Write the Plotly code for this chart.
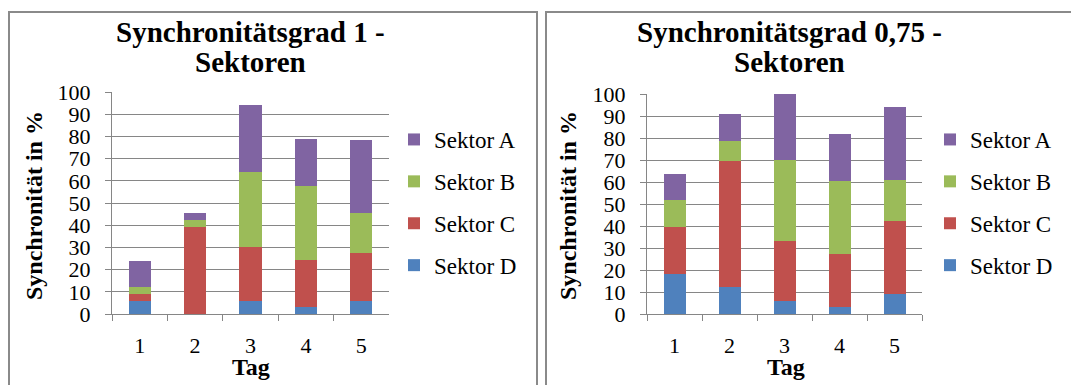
import plotly.graph_objects as go

tage = ["1", "2", "3", "4", "5"]
sektoren = ["Sektor D", "Sektor C", "Sektor B", "Sektor A"]
farben = {"Sektor A": "#8064A2", "Sektor B": "#9BBB59", "Sektor C": "#C0504D", "Sektor D": "#4F81BD"}
rang = {"Sektor A": 1, "Sektor B": 2, "Sektor C": 3, "Sektor D": 4}

# Synchronitätsgrad 1
g1_D = [6, 0, 6, 3, 6]
g1_C = [3, 39.4, 24.4, 21.3, 21.3]
g1_B = [3, 3, 33.5, 33.4, 18.2]
g1_A = [12, 3.2, 30.1, 21, 33.1]

# Synchronitätsgrad 0,75
g2_D = [18.2, 12.1, 6.1, 3, 9.1]
g2_C = [21.2, 57.6, 27.3, 24.2, 33.3]
g2_B = [12.3, 9.1, 36.4, 33.3, 18.3]
g2_A = [11.8, 12.1, 30.3, 21.2, 33.3]

titel1 = ["Synchronitätsgrad 1 -", "Sektoren"]
titel2 = ["Synchronitätsgrad 0,75 -", "Sektoren"]
y_titel = "Synchronität in %"
x_titel = "Tag"

FONT = "Liberation Serif, Times New Roman, serif"
W, H = 1071, 385

fig = go.Figure()

series1 = {"Sektor D": g1_D, "Sektor C": g1_C, "Sektor B": g1_B, "Sektor A": g1_A}
series2 = {"Sektor D": g2_D, "Sektor C": g2_C, "Sektor B": g2_B, "Sektor A": g2_A}

for name in sektoren:
    fig.add_trace(go.Bar(x=tage, y=series1[name], name=name, marker_color=farben[name],
                         marker_line_width=0, xaxis="x", yaxis="y", legend="legend",
                         legendgroup="l1" + name, legendrank=rang[name]))
for name in sektoren:
    fig.add_trace(go.Bar(x=tage, y=series2[name], name=name, marker_color=farben[name],
                         marker_line_width=0, xaxis="x2", yaxis="y2", legend="legend2",
                         legendgroup="l2" + name, legendrank=rang[name]))

def px_x(p):
    return p / W

def px_y(p):
    return 1 - p / H

grid = "#868686"
axis_common = dict(
    showline=True, linecolor=grid, linewidth=1.3, automargin=False,
    ticks="outside", tickcolor=grid, ticklen=6, tickwidth=1.3,
    tickfont=dict(family=FONT, size=22, color="#000"),
)

leg_common = dict(xanchor="left", yanchor="top", traceorder="grouped", tracegroupgap=9,
                  font=dict(family=FONT, size=23, color="#000"), bgcolor="rgba(0,0,0,0)")

fig.update_layout(
    width=W, height=H,
    margin=dict(l=0, r=0, t=0, b=0, pad=0, autoexpand=False),
    paper_bgcolor="white", plot_bgcolor="white",
    barmode="stack", bargap=0.6,
    font=dict(family=FONT, color="#000"),
    xaxis=dict(domain=[px_x(112), px_x(389)], anchor="y", tickson="boundaries",
               ticklabelstandoff=11, showgrid=False, **axis_common),
    yaxis=dict(domain=[px_y(314), px_y(92)], anchor="x", range=[0, 100], dtick=10,
               showgrid=True, gridcolor=grid, gridwidth=1.3, ticklabelstandoff=10,
               **axis_common),
    xaxis2=dict(domain=[px_x(647), px_x(922)], anchor="y2", tickson="boundaries",
                ticklabelstandoff=11, showgrid=False, **axis_common),
    yaxis2=dict(domain=[px_y(314), px_y(94)], anchor="x2", range=[0, 100], dtick=10,
                showgrid=True, gridcolor=grid, gridwidth=1.3, ticklabelstandoff=10,
                **axis_common),
    legend=dict(x=px_x(394), y=px_y(118), **leg_common),
    legend2=dict(x=px_x(930), y=px_y(118), **leg_common),
)

shapes = [
    dict(type="rect", xref="paper", yref="paper", x0=px_x(9), x1=px_x(537),
         y0=px_y(400), y1=px_y(12), line=dict(color="#8a8a8a", width=2)),
    dict(type="rect", xref="paper", yref="paper", x0=px_x(546), x1=px_x(1090),
         y0=px_y(400), y1=px_y(12), line=dict(color="#8a8a8a", width=2)),
]
fig.update_layout(shapes=shapes)

ann = []
for cx, lines in [(250, titel1), (789, titel2)]:
    for i, t in enumerate(lines):
        ann.append(dict(text="<b>" + t + "</b>", x=px_x(cx), y=px_y(32 + 30 * i),
                        xref="paper", yref="paper", showarrow=False,
                        font=dict(family=FONT, size=29, color="#000"),
                        xanchor="center", yanchor="middle"))
for cx in [34, 568]:
    ann.append(dict(text="<b>" + y_titel + "</b>", x=px_x(cx), y=px_y(206),
                    xref="paper", yref="paper", showarrow=False, textangle=-90,
                    font=dict(family=FONT, size=24, color="#000"),
                    xanchor="center", yanchor="middle"))
for cx in [251, 786]:
    ann.append(dict(text="<b>" + x_titel + "</b>", x=px_x(cx), y=px_y(367),
                    xref="paper", yref="paper", showarrow=False,
                    font=dict(family=FONT, size=24, color="#000"),
                    xanchor="center", yanchor="middle"))
fig.update_layout(annotations=ann)

fig.write_html("out.html", config={"displayModeBar": False},
               post_script="document.body.style.margin='0px';")
